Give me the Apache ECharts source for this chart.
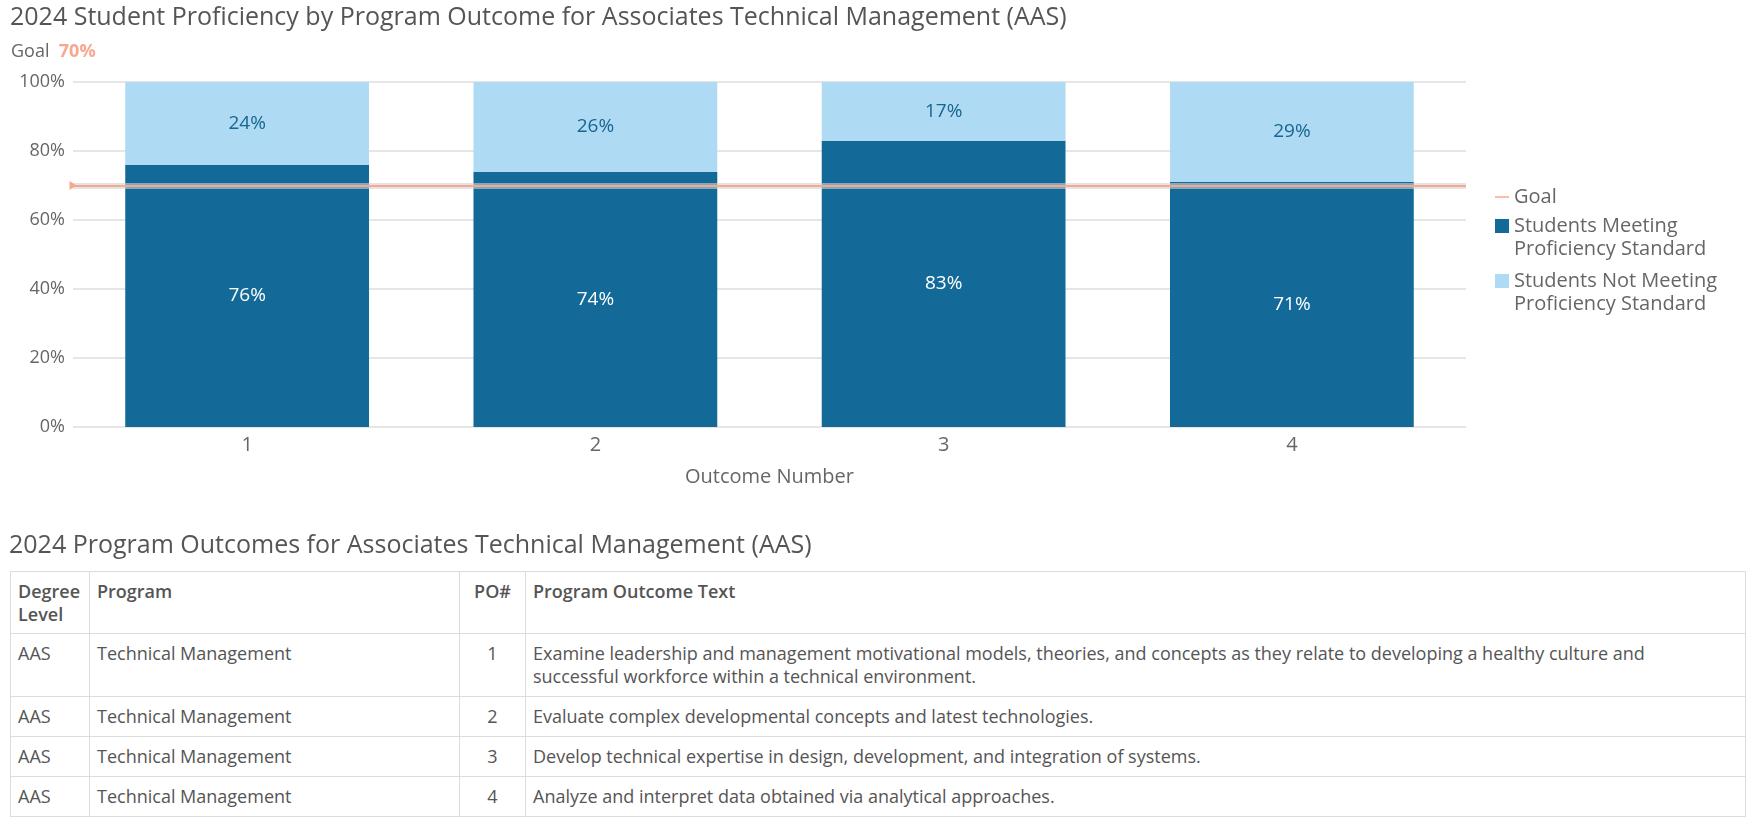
<!DOCTYPE html>
<html>
<head>
<meta charset="utf-8">
<script src="https://cdn.jsdelivr.net/npm/echarts@6/dist/echarts.min.js"></script>
<style>
  html,body{margin:0;padding:0;background:#fff;font-family:'Open Sans',sans-serif;}
  #chart{position:absolute;left:0;top:0;width:1752px;height:540px;}
  #tblTitle{position:absolute;left:9px;top:527px;font-size:25px;color:#555;line-height:33px;white-space:nowrap;}
  table{position:absolute;left:10px;top:571px;width:1736px;border-collapse:collapse;table-layout:fixed;font-size:18px;color:#555;}
  td,th{border:1px solid #dcdcdc;padding:8px 7px 8px 7px;line-height:23px;vertical-align:top;text-align:left;}
  th{font-weight:600;padding-bottom:7px;}
  .c{text-align:center;}
</style>
</head>
<body>
<div id="chart"></div>
<div id="tblTitle"></div>
<table id="tbl"></table>
<script>
const chartTitle = '2024 Student Proficiency by Program Outcome for Associates Technical Management (AAS)';
const tableTitle = '2024 Program Outcomes for Associates Technical Management (AAS)';
const categories = ['1', '2', '3', '4'];
const meeting = [76, 74, 83, 71];
const notMeeting = [24, 26, 17, 29];
const goal = 70;
const yTicks = [0, 20, 40, 60, 80, 100];
const seriesNames = ['Goal', 'Students Meeting\nProficiency Standard', 'Students Not Meeting\nProficiency Standard'];
const tableHeader = ['Degree Level', 'Program', 'PO#', 'Program Outcome Text'];
const tableDegree = ['AAS', 'AAS', 'AAS', 'AAS'];
const tableProgram = ['Technical Management', 'Technical Management', 'Technical Management', 'Technical Management'];
const tablePO = ['1', '2', '3', '4'];
const tableText = [
  'Examine leadership and management motivational models, theories, and concepts as they relate to developing a healthy culture and\nsuccessful workforce within a technical environment.',
  'Evaluate complex developmental concepts and latest technologies.',
  'Develop technical expertise in design, development, and integration of systems.',
  'Analyze and interpret data obtained via analytical approaches.'
];

const DARK = '#136a98';
const LIGHT = '#afdaf3';
const GOALC = '#f7a88f';
const FONT = 'Open Sans';

const chart = echarts.init(document.getElementById('chart'), null, {renderer: 'canvas'});
const legendText = {fontFamily: FONT, fontSize: 20, color: '#666', lineHeight: 23};
const firstLineFmt = name => '\n' + name;

chart.setOption({
  animation: false,
  textStyle: {fontFamily: FONT},
  title: [
    {text: chartTitle, left: 5, top: 0,
     textStyle: {fontFamily: FONT, fontSize: 25, fontWeight: 'normal', color: '#555'}},
    {text: '{a|Goal}  {b|' + goal + '%}', left: 6, top: 38,
     textStyle: {fontWeight: 'normal', rich: {
       a: {fontFamily: FONT, fontSize: 18, color: '#666', fontWeight: 'normal'},
       b: {fontFamily: FONT, fontSize: 18, color: GOALC, fontWeight: 'bold'}
     }}}
  ],
  legend: [
    {data: [{name: seriesNames[0], icon: 'rect'}], orient: 'vertical', left: 1495, top: 185.5, padding: 0,
     itemWidth: 14, itemHeight: 2, itemGap: 0, textStyle: legendText},
    {data: [{name: seriesNames[1], icon: 'rect'}], orient: 'vertical', left: 1495, top: 191.5, padding: 0,
     itemWidth: 14, itemHeight: 14, itemGap: 0, textStyle: legendText, formatter: firstLineFmt},
    {data: [{name: seriesNames[2], icon: 'rect'}], orient: 'vertical', left: 1495, top: 246.5, padding: 0,
     itemWidth: 14, itemHeight: 14, itemGap: 0, textStyle: legendText, formatter: firstLineFmt}
  ],
  grid: {left: 73, right: 286, top: 82, bottom: 113, containLabel: false},
  xAxis: {
    type: 'category', data: categories,
    axisLine: {show: false}, axisTick: {show: false},
    axisLabel: {fontFamily: FONT, fontSize: 20, color: '#666', margin: 8},
    name: 'Outcome Number', nameLocation: 'middle', nameGap: 40,
    nameTextStyle: {fontFamily: FONT, fontSize: 20, color: '#666'}
  },
  yAxis: {
    type: 'value', min: yTicks[0], max: yTicks[yTicks.length - 1], interval: yTicks[1] - yTicks[0],
    axisLine: {show: false}, axisTick: {show: false},
    axisLabel: {formatter: '{value}%', fontFamily: FONT, fontSize: 18, color: '#666', margin: 8},
    splitLine: {lineStyle: {color: '#dedede', width: 1.5}}
  },
  series: [
    {
      name: 'GoalBand', type: 'line', data: [],
      markLine: {
        silent: true, animation: false, symbol: ['none', 'none'],
        label: {show: false},
        lineStyle: {color: 'rgba(210,210,210,0.6)', width: 6, type: 'solid'},
        data: [{yAxis: goal}]
      }
    },
    {
      name: seriesNames[0], type: 'line', data: [], color: '#f9bfac',
      markLine: {
        silent: true, animation: false,
        symbol: ['triangle', 'none'], symbolSize: [9, 7], symbolRotate: -90,
        label: {show: false},
        lineStyle: {color: GOALC, width: 2, type: 'solid'},
        data: [{yAxis: goal}]
      }
    },
    {
      name: seriesNames[1], type: 'bar', stack: 'total', data: meeting, barWidth: '70%',
      itemStyle: {color: DARK},
      label: {show: true, position: 'inside', formatter: '{c}%', color: '#fff', fontFamily: FONT, fontSize: 19}
    },
    {
      name: seriesNames[2], type: 'bar', stack: 'total', data: notMeeting, barWidth: '70%',
      itemStyle: {color: LIGHT},
      label: {show: true, position: 'inside', formatter: '{c}%', color: '#176691', fontFamily: FONT, fontSize: 19}
    }
  ]
});

document.getElementById('tblTitle').textContent = tableTitle;
const esc = s => s.replace(/&/g, '&amp;').replace(/</g, '&lt;').replace(/\n/g, '<br>');
let html = '<colgroup><col style="width:79px"><col style="width:370px"><col style="width:66px"><col></colgroup>';
html += '<tr><th>Degree<br>Level</th><th>' + tableHeader[1] + '</th><th class="c">' + tableHeader[2] + '</th><th>' + tableHeader[3] + '</th></tr>';
for (let i = 0; i < tablePO.length; i++) {
  html += '<tr><td>' + tableDegree[i] + '</td><td>' + tableProgram[i] + '</td><td class="c">' + tablePO[i] + '</td><td>' + esc(tableText[i]) + '</td></tr>';
}
document.getElementById('tbl').innerHTML = html;
</script>
</body>
</html>
